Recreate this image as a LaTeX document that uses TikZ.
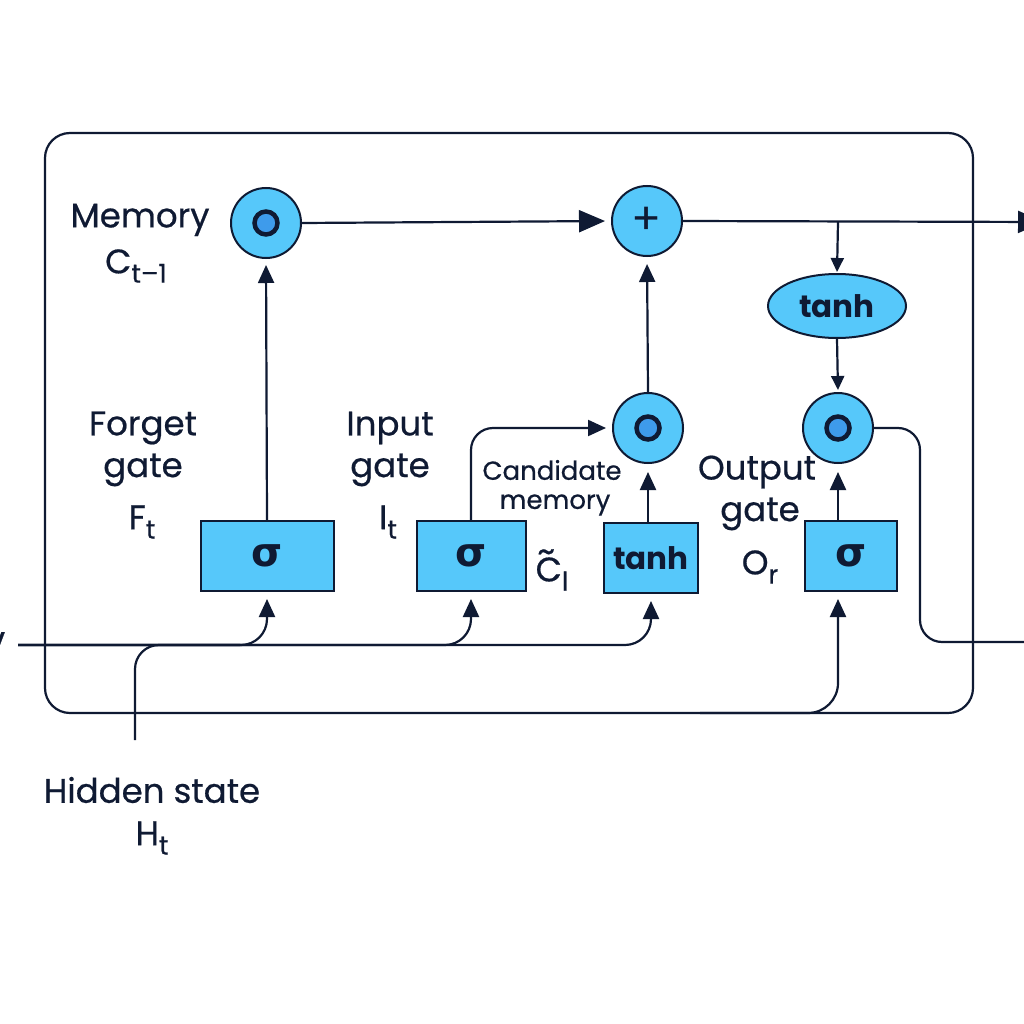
\documentclass[tikz,border=0pt]{standalone}
\usepackage{fontspec}
\setmainfont{Poppins}
\newfontfamily\lblfont{Poppins}[FakeBold=0.6]
\newfontfamily\grk{DejaVu Sans}
\usetikzlibrary{arrows.meta,shapes.geometric}
\definecolor{navy}{HTML}{0F1A33}
\definecolor{lblue}{HTML}{56C8FA}
\definecolor{mblue}{HTML}{3E9BEB}
\newcommand\lowsub[1]{\raisebox{-0.5ex}{\fontsize{26}{26}\selectfont#1}}
\newcommand\tildeC{\makebox[0pt][l]{\raisebox{0.55em}{\hspace{0.05em}\textasciitilde}}C}
\begin{document}
\begin{tikzpicture}[x=1pt,y=-1pt,
  lbl/.style={text=navy,font=\lblfont\fontsize{34}{38}\selectfont,align=center,inner sep=0},
  small/.style={text=navy,font=\lblfont\fontsize{26}{30}\selectfont,align=center,inner sep=0},
  circ/.style={circle,draw=navy,fill=lblue,minimum size=70pt,inner sep=0,line width=2pt},
  dotc/.style={circle,draw=navy,fill=mblue,line width=4.5pt,minimum size=23pt,inner sep=0},
  gbox/.style={rectangle,draw=navy,fill=lblue,line width=2pt,minimum height=70pt,inner sep=0,text=navy},
  arr/.style={-{Triangle[length=18pt,width=16pt]},line width=2.2pt,draw=navy},
  arrs/.style={-{Triangle[length=14pt,width=13pt]},line width=2.2pt,draw=navy},
  arrbig/.style={-{Triangle[length=26pt,width=22pt]},line width=2.2pt,draw=navy},
  wire/.style={line width=2.2pt,draw=navy}]
\fill[white] (0,0) rectangle (1024,1024);
\useasboundingbox (0,0) rectangle (1024,1024);

% frame
\node[draw=navy,rounded corners=25pt,minimum width=928pt,minimum height=580pt,line width=2.2pt,inner sep=0] (frame) at (509,423) {};

% circles
\node[circ] (mem) at (266,223) {};
\node[dotc] (memd) at (mem) {};
\node[circ] (plus) at (647,221) {\fontsize{44}{44}\selectfont\color{navy}+};
\node[circ] (imul) at (648,428) {};
\node[dotc] (imuld) at (imul) {};
\node[circ] (omul) at (838,428) {};
\node[dotc] (omuld) at (omul) {};
\node[ellipse,draw=navy,fill=lblue,line width=2pt,minimum width=138pt,minimum height=64pt,inner sep=0,text=navy,font=\bfseries\fontsize{31}{31}\selectfont] (th) at (837,306) {tanh};

% gate boxes
\node[gbox,minimum width=133pt,font=\grk\bfseries\fontsize{40}{40}\selectfont] (fs) at (267,556) {σ};
\node[gbox,minimum width=109pt,font=\grk\bfseries\fontsize{40}{40}\selectfont] (is) at (471,556) {σ};
\node[gbox,minimum width=94pt,font=\bfseries\fontsize{31}{31}\selectfont] (tb) at (651,558) {tanh};
\node[gbox,minimum width=92pt,font=\grk\bfseries\fontsize{40}{40}\selectfont] (os) at (851,556) {σ};

% coordinates
\coordinate (cout) at (1044,222);
\coordinate (tap) at (838,222);
\coordinate (obend) at (920,428);
\coordinate (obend2) at (920,642);
\coordinate (hout) at (1044,642);
\coordinate (xin) at (18,645);
\coordinate (hin) at (135,740);
\coordinate (hjoin) at (135,645);
\coordinate (bstart) at (700,713);

% connectors
\draw[arrbig,shorten >=6pt] (mem.east) -- (plus.west);
\draw[arrbig] (plus.east) -- (cout);
\draw[arrs,shorten >=1pt] (tap) -- (th.north);
\draw[arrs,shorten >=2pt] (th.south) -- (omul.north);
\draw[arr,shorten >=6pt] (fs.north) -- (mem.south);
\draw[arr,shorten >=7pt] (imul.north) -- (plus.south);
\draw[arr,shorten >=8pt] (tb.north -| imul) -- (imul.south);
\draw[arr,rounded corners=22pt,shorten >=6pt] (is.north) |- (imul.west);
\draw[arr,shorten >=8pt] (os.north -| omul) -- (omul.south);
\draw[arr,rounded corners=22pt] (omul.east) -- (obend) -- (obend2) -- (hout);
\draw[arr,rounded corners=26pt,shorten >=7pt] (xin) -- (xin -| fs) -- (fs.south);
\draw[arr,rounded corners=26pt,shorten >=7pt] (xin) -- (xin -| is) -- (is.south);
\draw[arr,rounded corners=26pt,shorten >=7pt] (xin) -- (xin -| tb) -- (tb.south);
\draw[wire,rounded corners=24pt] (hin) -- (hjoin) -- (240,645);
\draw[arr,rounded corners=30pt,shorten >=7pt] (bstart) -- (bstart -| omul) -- (os.south -| omul);

% labels
\node[lbl] (lmem) at (140,220) {Memory};
\node[lbl] (lmc) at (136,266) {C\lowsub{t–1}};
\node[lbl] (lfg1) at (143,428) {Forget};
\node[lbl] (lfg2) at (143,470) {gate};
\node[lbl] (lfg3) at (142,522) {F\lowsub{t}};
\node[lbl] (lin1) at (390,428) {Input};
\node[lbl] (lin2) at (390,470) {gate};
\node[lbl] (lin3) at (388,522) {I\lowsub{t}};
\node[small] (lcm1) at (552,470) {Candidate};
\node[small] (lcm2) at (555,505) {memory};
\node[lbl] (lcm3) at (552,570) {\tildeC\lowsub{l}};
\node[lbl] (lout1) at (757,472) {Output};
\node[lbl] (lout2) at (760,514) {gate};
\node[lbl] (lout3) at (760,567) {O\lowsub{r}};
\node[lbl] (lhs1) at (152,790) {Hidden state};
\node[lbl] (lhs2) at (152,838) {H\lowsub{t}};
\node[lbl] (lv) at (-6,644) {V};
\end{tikzpicture}
\end{document}
